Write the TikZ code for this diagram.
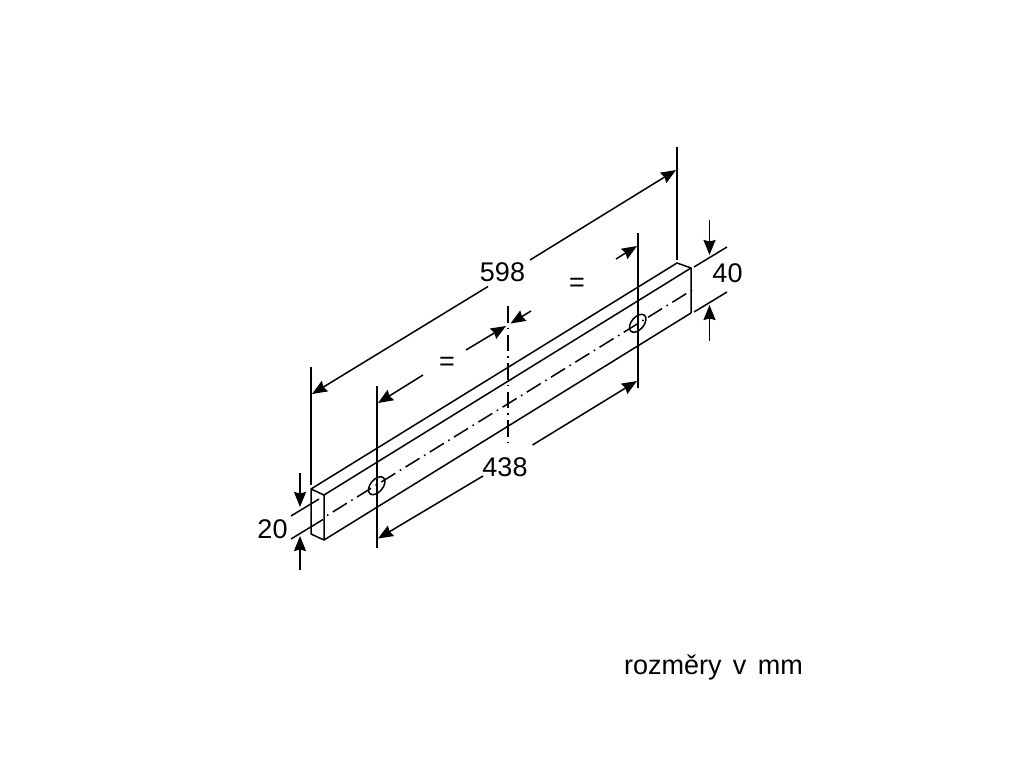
\documentclass[tikz,border=0pt]{standalone}
\usepackage{fontspec}
\setmainfont{Liberation Sans}
\usetikzlibrary{arrows.meta,shapes.geometric}
\tikzset{
 ln/.style={line width=1.5pt,black},
 dim/.style={ln,-{Stealth[length=15pt,width=12pt,inset=1.5pt]}},
 chainv/.style={ln,dash pattern=on 16.5pt off 5.2pt on 1.6pt off 5.2pt},
 chaind/.style={ln,dash pattern=on 1.6pt off 5.2pt on 16.5pt off 5.2pt},
 lab/.style={font=\fontsize{27}{27}\selectfont,inner sep=0pt,text=black},
 hole/.style={ln,draw,ellipse,minimum width=21pt,minimum height=12.5pt,rotate=50,inner sep=0pt}
}
\begin{document}
\begin{tikzpicture}[x=1pt,y=-1pt]
\useasboundingbox[fill=white] (0,0) rectangle (1024,768);
% bar corners
\coordinate (a) at (311,489);
\coordinate (b) at (324,495);
\coordinate (c) at (324,540);
\coordinate (d) at (311,534);
\coordinate (e) at (677,263);
\coordinate (f) at (691,268);
\coordinate (g) at (691,313);
% centre line
\coordinate (cl) at (327,515.5);
\coordinate (cr) at (693,289.5);
\draw[chaind] (cl) -- (cr);
\node[hole] (h1) at (376.7,485.7) {};
\node[hole] (h2) at (637.7,323.3) {};
\draw[ln,line join=round] (a) -- (b) -- (c) -- (d) -- cycle;
\draw[ln,line join=round] (a) -- (e) -- (f) -- (g) -- (c);
\draw[ln] (b) -- (f);
% extension lines
\coordinate (x1t) at (311,367); \coordinate (x1b) at (311,485);
\coordinate (x2t) at (677,147); \coordinate (x2b) at (677,260);
\coordinate (x3t) at (377,386); \coordinate (x3b) at (377,548);
\coordinate (x4t) at (638,233); \coordinate (x4b) at (638,388);
\draw[ln] (x1t) -- (x1b);
\draw[ln] (x2t) -- (x2b);
\draw[ln] (x3t) -- (x3b);
\draw[ln] (x4t) -- (x4b);
% mid chain line
\coordinate (mt) at (508,306); \coordinate (mb) at (508,444);
\draw[chainv] (mt) -- (mb);
% 598
\coordinate (p1) at (488,286.5); \coordinate (p1t) at (312,394);
\coordinate (p2) at (530,260); \coordinate (p2t) at (676,170);
\draw[dim] (p1) -- (p1t);
\draw[dim] (p2) -- (p2t);
% = dims
\coordinate (q1) at (423,375); \coordinate (q1t) at (378,403);
\coordinate (q2) at (466,350); \coordinate (q2t) at (506,326);
\coordinate (q3) at (531,311); \coordinate (q3t) at (510.5,323.5);
\coordinate (q4) at (616,259); \coordinate (q4t) at (637,246);
\draw[dim] (q1) -- (q1t);
\draw[dim] (q2) -- (q2t);
\draw[dim] (q3) -- (q3t);
\draw[dim] (q4) -- (q4t);
% 438
\coordinate (r1) at (483,476); \coordinate (r1t) at (378,538.5);
\coordinate (r2) at (532.5,445); \coordinate (r2t) at (637,381);
\draw[dim] (r1) -- (r1t);
\draw[dim] (r2) -- (r2t);
% 20
\coordinate (s1a) at (291,516); \coordinate (s1b) at (319,499);
\coordinate (s2a) at (291,539); \coordinate (s2b) at (323,519.5);
\draw[ln] (s1a) -- (s1b);
\draw[ln] (s2a) -- (s2b);
\coordinate (t1) at (300,473); \coordinate (t1t) at (300,507);
\coordinate (t2) at (300,570); \coordinate (t2t) at (300,536);
\draw[dim] (t1) -- (t1t);
\draw[dim] (t2) -- (t2t);
% 40
\coordinate (u1a) at (694,267); \coordinate (u1b) at (727,247);
\coordinate (u2a) at (694,312); \coordinate (u2b) at (727,292);
\draw[ln] (u1a) -- (u1b);
\draw[ln] (u2a) -- (u2b);
\coordinate (v1) at (709.5,220); \coordinate (v1t) at (709.5,255);
\coordinate (v2) at (709.5,341); \coordinate (v2t) at (709.5,305);
\draw[dim] (v1) -- (v1t);
\draw[dim] (v2) -- (v2t);
% labels
\node[lab] (l598) at (502.5,272.5) {598};
\node[lab] (l438) at (505,467) {438};
\node[lab] (l20) at (272.5,529) {20};
\node[lab] (l40) at (727.5,273.5) {40};
\node[lab] (e1) at (447,364) {=};
\node[lab] (e2) at (577,285) {=};
\node[lab] (cap) at (713.5,667) {rozměry\hspace{4pt} v\hspace{4pt} mm};
\end{tikzpicture}
\end{document}
